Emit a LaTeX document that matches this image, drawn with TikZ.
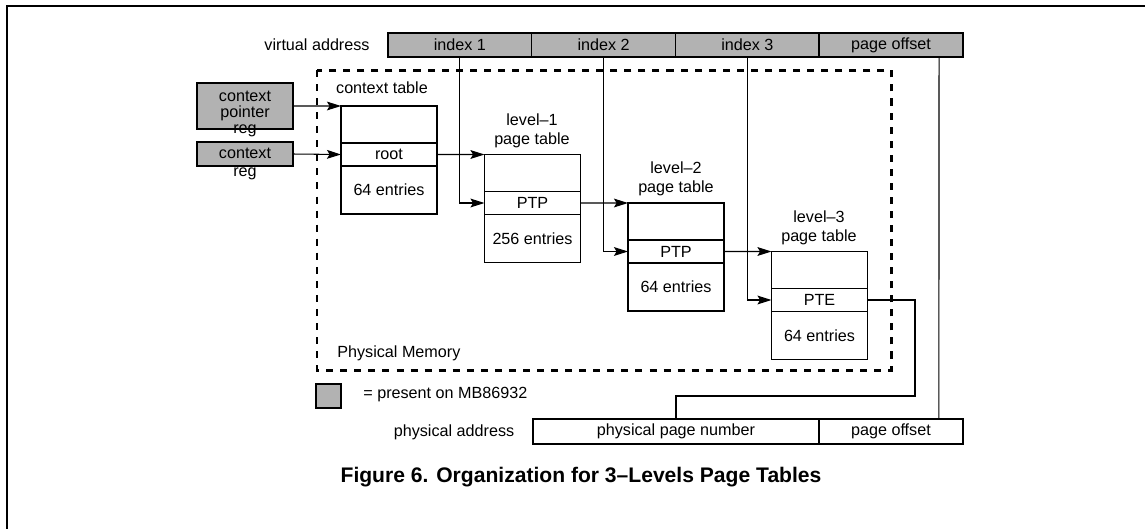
\documentclass[tikz,border=0pt]{standalone}
\usepackage{fontspec}
\setmainfont{Liberation Sans}
\usetikzlibrary{positioning,arrows.meta}

\begin{document}
\begin{tikzpicture}[x=0.02cm,y=-0.02cm,
    every node/.style={font=\fontsize{9.2}{11}\selectfont},
    field/.style={draw, line width=0.8pt, minimum height=0.48cm, inner sep=0pt, outer sep=0pt},
    shaded/.style={field, fill=black!30},
    cell/.style={draw, line width=0.8pt, minimum width=1.92cm, inner sep=0pt, outer sep=0pt},
    topcell/.style={cell, minimum height=0.74cm},
    midcell/.style={cell, minimum height=0.46cm},
    entcell/.style={cell, minimum height=0.96cm},
    arr/.style={-{Stealth[length=8pt,width=5pt,inset=1.5pt]}, line width=0.6pt},
    wire/.style={line width=0.6pt}]
    \useasboundingbox (0,0) rectangle (1145,529);
    \draw[line width=1.3pt] (1145,6) -- (7,6) -- (7,529);

    % virtual address
    \node (valabel) at (317,45) {virtual address};
    \node[shaded, minimum width=2.875cm, anchor=west] (vaidx1) at (388,45) {index 1};
    \node[shaded, minimum width=2.875cm, right=0pt of vaidx1] (vaidx2) {index 2};
    \node[shaded, minimum width=2.875cm, right=0pt of vaidx2] (vaidx3) {index 3};
    \node[shaded, minimum width=2.875cm, right=0pt of vaidx3] (vaoff) {page offset};

    % physical memory
    \draw[line width=1.7pt, dash pattern=on 4pt off 4pt] (317,70) rectangle (891,370);
    \node[anchor=west, inner sep=0pt] (pmlabel) at (337,353) {Physical Memory};

    % registers
    \node[shaded, minimum width=1.92cm, minimum height=0.92cm, anchor=north west] (cpreg) at (197,83) {};
    \node[align=center, font=\fontsize{9.2}{9}\selectfont] (cpregtext) at (245,114) {context\\pointer\\reg};
    \node[shaded, minimum width=1.92cm, anchor=north west] (creg) at (197,142) {};
    \node[align=center, font=\fontsize{9.2}{10}\selectfont] (cregtext) at (245,164) {context\\reg};

    % context table
    \node (ctxlabel) at (382,88) {context table};
    \node[topcell, anchor=north west] (ctxtop) at (341,106) {};
    \node[midcell, below=0pt of ctxtop] (ctxroot) {root};
    \node[entcell, below=0pt of ctxroot] (ctxent) {64 entries};

    % level-1
    \node[align=center] (l1label) at (532,131) {level--1\\page table};
    \node[topcell, anchor=north west] (l1top) at (484.5,154.5) {};
    \node[midcell, below=0pt of l1top] (l1ptp) {PTP};
    \node[entcell, below=0pt of l1ptp] (l1ent) {256 entries};

    % level-2
    \node[align=center] (l2label) at (676,179) {level--2\\page table};
    \node[topcell, anchor=north west] (l2top) at (628,203) {};
    \node[midcell, below=0pt of l2top] (l2ptp) {PTP};
    \node[entcell, below=0pt of l2ptp] (l2ent) {64 entries};

    % level-3
    \node[align=center] (l3label) at (819,228) {level--3\\page table};
    \node[topcell, anchor=north west] (l3top) at (771.5,251.5) {};
    \node[midcell, below=0pt of l3top] (l3pte) {PTE};
    \node[entcell, below=0pt of l3pte] (l3ent) {64 entries};

    % physical address
    \node (palabel) at (454,432) {physical address};
    \node[field, minimum width=5.72cm, minimum height=0.5cm, anchor=west] (pappn) at (533,431.5) {physical page number};
    \node[field, minimum width=2.88cm, minimum height=0.5cm, right=0pt of pappn] (paoff) {page offset};

    % key
    \node[shaded, minimum width=0.5cm] (keybox) at (328.5,396) {};
    \node[anchor=west, inner sep=0pt] (keytext) at (363,395) {= present on MB86932};

    \draw[arr] (cpreg.east) -- (ctxtop.north west);
    \draw[arr] (creg.east) -- (ctxroot.west);
    \draw[arr] (ctxroot.east) -- (l1top.north west);
    \draw[arr] (vaidx1.south) |- (l1ptp.west);
    \draw[arr] (l1ptp.east) -- (l2top.north west);
    \draw[arr] (vaidx2.south) |- (l2ptp.west);
    \draw[arr] (l2ptp.east) -- (l3top.north west);
    \draw[arr] (vaidx3.south) |- (l3pte.west);

    \coordinate (pteturn) at (915,396);
    \draw[wire] (l3pte.east) -| (pteturn) -| (pappn.north);
    \draw[wire] ([xshift=0.96cm]vaoff.south) -- ([xshift=0.96cm]paoff.north);

    \node[font=\fontsize{12}{14}\selectfont\bfseries] (caption) at (581,477) {Figure 6. Organization for 3--Levels Page Tables};
\end{tikzpicture}
\end{document}
